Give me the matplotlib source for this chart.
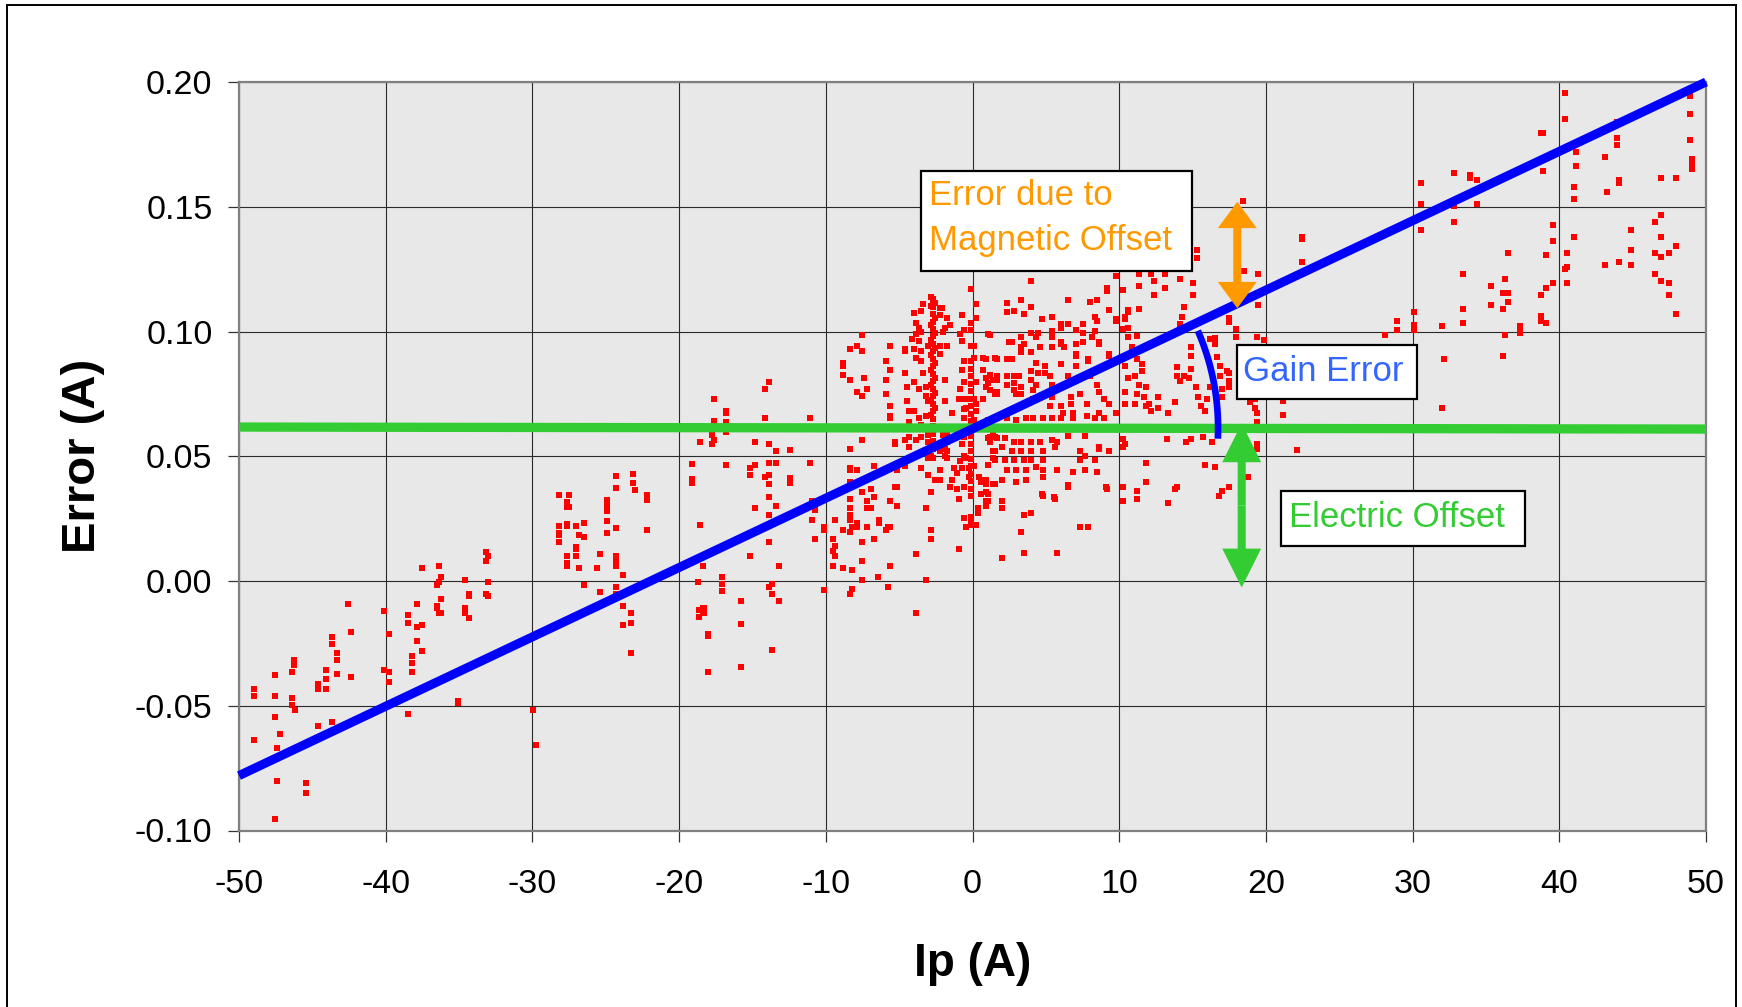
import numpy as np
import matplotlib
matplotlib.use('Agg')
import matplotlib.pyplot as plt
from matplotlib.patches import Rectangle, FancyArrowPatch, ArrowStyle
from matplotlib.ticker import FormatStrFormatter

plt.rcParams['font.family'] = ['Liberation Sans', 'DejaVu Sans']
plt.rcParams['axes.unicode_minus'] = False

pts_far_left = [
    (-48.98, -0.0432), (-48.98, -0.0459), (-48.98, -0.0639),
    (-47.52, -0.0376), (-47.52, -0.0460), (-47.52, -0.0545), (-47.23, -0.0612),
    (-47.39, -0.0669), (-47.39, -0.0800), (-47.52, -0.0952),
    (-46.40, -0.0365), (-46.25, -0.0318), (-46.25, -0.0336), (-46.40, -0.0469),
    (-46.40, -0.0497), (-46.20, -0.0516), (-45.43, -0.0810), (-45.43, -0.0848),
    (-44.64, -0.0412), (-44.64, -0.0432), (-44.64, -0.0583), (-44.10, -0.0356),
    (-44.10, -0.0393), (-44.10, -0.0432), (-43.66, -0.0223), (-43.66, -0.0251),
    (-43.34, -0.0289), (-43.34, -0.0318), (-43.34, -0.0374), (-43.66, -0.0564),
    (-42.55, -0.0091), (-42.36, -0.0205), (-42.36, -0.0384),
    (-40.10, -0.0119), (-39.77, -0.0214), (-40.10, -0.0356), (-39.77, -0.0365),
    (-39.77, -0.0404), (-38.50, -0.0138), (-38.50, -0.0167), (-38.50, -0.0535),
    (-37.84, -0.0091), (-37.84, -0.0186), (-37.84, -0.0242), (-37.50, 0.0052),
    (-37.50, -0.0175), (-37.50, -0.0279), (-38.20, -0.0300), (-38.20, -0.0328),
    (-38.20, -0.0365), (-36.36, 0.0062), (-36.20, 0.0015), (-36.36, -0.0004),
    (-36.50, -0.0015), (-36.20, -0.0072), (-36.50, -0.0100), (-36.50, -0.0110),
    (-36.36, -0.0128), (-36.20, -0.0128), (-34.60, 0.0004), (-34.30, -0.0052),
    (-34.30, -0.0061), (-34.60, -0.0110), (-34.60, -0.0128), (-34.30, -0.0147),
    (-35.10, -0.0479), (-35.10, -0.0488), (-33.16, 0.0118), (-33.00, 0.0099),
    (-33.16, 0.0080), (-33.00, -0.0005), (-33.16, -0.0052), (-33.00, -0.0061),
    (-29.93, -0.0517), (-29.77, -0.0659),
    (-28.16, 0.0345), (-27.50, 0.0345), (-27.66, 0.0316), (-27.50, 0.0297),
    (-27.66, 0.0297), (-28.16, 0.0222), (-28.16, 0.0194), (-28.16, 0.0185),
    (-28.16, 0.0156), (-27.66, 0.0230), (-27.66, 0.0222), (-27.00, 0.0222),
    (-26.50, 0.0231), (-26.84, 0.0185), (-26.50, 0.0175), (-27.00, 0.0138),
    (-27.00, 0.0127), (-27.66, 0.0099), (-27.66, 0.0071), (-27.66, 0.0062),
    (-27.00, 0.0099), (-26.84, 0.0052), (-26.50, -0.0015), (-25.57, 0.0052),
    (-25.40, 0.0108), (-25.40, -0.0043),
    (-24.90, 0.0326), (-24.90, 0.0307), (-24.90, 0.0289), (-24.90, 0.0279),
    (-24.90, 0.0241), (-24.90, 0.0194), (-24.27, 0.0420), (-24.27, 0.0373),
    (-24.27, 0.0213), (-24.27, 0.0099), (-24.27, 0.0080), (-24.27, 0.0062),
    (-23.80, 0.0023), (-24.27, -0.0024), (-24.27, -0.0052), (-23.80, -0.0100),
    (-23.80, -0.0175), (-23.30, -0.0128), (-23.30, -0.0167), (-23.30, -0.0289),
    (-23.15, 0.0429), (-23.15, 0.0392), (-23.00, 0.0364), (-22.20, 0.0345),
    (-22.20, 0.0326), (-22.20, 0.0203),
    (-19.10, 0.0468), (-19.10, 0.0410), (-19.10, 0.0392),
]

pts_mid_left = [
    (-18.66, -0.0118), (-18.30, -0.0109), (-18.30, -0.0128), (-18.66, -0.0146),
    (-18.00, -0.0211), (-18.00, -0.0221), (-18.00, -0.0363), (-15.76, -0.0174),
    (-15.76, -0.0343), (-13.65, -0.0278),
    (-17.60, 0.0730), (-17.60, 0.0643), (-17.76, 0.0586), (-17.76, 0.0548),
    (-17.60, 0.0567), (-18.56, 0.0558), (-16.77, 0.0683), (-16.77, 0.0674),
    (-16.77, 0.0636), (-16.77, 0.0596), (-16.77, 0.0463), (-18.56, 0.0224),
    (-18.38, 0.0062), (-18.70, -0.0004), (-17.08, 0.0015), (-17.08, -0.0014),
    (-17.08, -0.0042), (-18.38, -0.0110), (-18.38, -0.0130), (-15.80, -0.0081),
    (-15.15, 0.0100), (-14.83, 0.0291), (-15.15, 0.0453), (-15.15, 0.0425),
    (-14.83, 0.0463), (-14.83, 0.0558), (-14.17, 0.0768), (-13.85, 0.0796),
    (-14.17, 0.0654), (-13.85, 0.0548), (-13.85, 0.0472), (-13.37, 0.0520),
    (-13.37, 0.0472), (-13.85, 0.0425), (-14.17, 0.0415), (-13.85, 0.0387),
    (-13.85, 0.0338), (-13.85, 0.0263), (-13.37, 0.0300), (-13.85, 0.0157),
    (-13.20, 0.0062), (-13.85, -0.0023), (-13.69, -0.0014), (-13.69, -0.0053),
    (-13.20, -0.0081), (-12.41, 0.0526), (-12.41, 0.0412), (-12.41, 0.0393),
    (-11.10, 0.0654), (-11.10, 0.0472), (-10.93, 0.0319), (-10.77, 0.0283),
    (-10.93, 0.0244), (-10.77, 0.0167), (-10.14, 0.0215), (-10.14, 0.0205),
    (-10.14, -0.0035),
]

pts_core_left = [
    (-8.84, 0.0872), (-8.84, 0.0862), (-8.84, 0.0825), (-8.34, 0.0930),
    (-7.86, 0.0940), (-7.54, 0.0920), (-7.54, 0.0987), (-8.34, 0.0806),
    (-7.38, 0.0815), (-7.86, 0.0759), (-7.54, 0.0740), (-7.22, 0.0768),
    (-7.54, 0.0567), (-8.34, 0.0530), (-8.34, 0.0453), (-8.34, 0.0444),
    (-7.86, 0.0444), (-8.34, 0.0396), (-8.34, 0.0329), (-8.34, 0.0291),
    (-8.34, 0.0263), (-8.34, 0.0244), (-7.86, 0.0234), (-8.18, 0.0215),
    (-8.34, 0.0197), (-7.86, 0.0215), (-7.54, 0.0358), (-7.22, 0.0319),
    (-7.22, 0.0291), (-6.90, 0.0291), (-6.90, 0.0368), (-6.74, 0.0338),
    (-6.74, 0.0462), (-6.40, 0.0244), (-6.40, 0.0234), (-7.22, 0.0215),
    (-7.54, 0.0157), (-6.72, 0.0167), (-7.54, 0.0081), (-7.54, 0.0005),
    (-8.18, 0.0043), (-8.18, -0.0034), (-8.34, -0.0053), (-8.84, 0.0053),
    (-9.34, 0.0100), (-9.50, 0.0167), (-9.34, 0.0139), (-9.50, 0.0119),
    (-9.50, 0.0062), (-9.34, 0.0244), (-8.84, 0.0206), (-6.42, 0.0015),
    (-5.76, -0.0023), (-5.92, 0.0206), (-5.76, 0.0215), (-5.60, 0.0215),
    (-5.60, 0.0062), (-5.13, 0.0300), (-5.29, 0.0377), (-5.13, 0.0377),
    (-5.60, 0.0319), (-5.13, 0.0444), (-5.92, 0.0749), (-5.92, 0.0806),
    (-5.92, 0.0883), (-5.60, 0.0940), (-5.60, 0.0844), (-5.60, 0.0700),
    (-5.60, 0.0663), (-5.60, 0.0654), (-5.29, 0.0558), (-5.29, 0.0548),
    (-4.63, 0.0930), (-4.63, 0.0920), (-4.63, 0.0834), (-4.47, 0.0778),
    (-4.47, 0.0721), (-4.31, 0.0682), (-4.31, 0.0636), (-4.63, 0.0567),
    (-4.31, 0.0577), (-4.31, 0.0539), (-4.63, 0.0462), (-3.83, 0.0109),
    (-3.83, -0.0130), (-3.17, 0.0005), (-3.17, 0.0291), (-2.85, 0.0205),
    (-2.85, 0.0167), (-2.85, 0.0358), (-3.01, 0.0424), (-3.49, 0.0453),
    (-2.53, 0.0406), (-2.21, 0.0444), (-2.21, 0.0406), (-1.71, 0.0492),
    (-1.41, 0.0406), (-1.07, 0.0368), (-1.07, 0.0434), (-0.90, 0.0329),
    (-0.56, 0.0253), (-0.90, 0.0128), (-0.41, 0.0215), (-0.09, 0.0225),
    (0.23, 0.0225), (-0.09, 0.0244), (0.39, 0.0272), (0.39, 0.0291),
    (-2.85, 0.1140), (-2.69, 0.1112), (-2.85, 0.1102), (-3.35, 0.1112),
    (-3.51, 0.1084), (-3.99, 0.1074), (-2.21, 0.1093), (-2.05, 0.1093),
    (-2.21, 0.1065), (-1.71, 0.1055), (-1.55, 0.1027), (-1.87, 0.1016),
    (-2.03, 0.0997), (-3.83, 0.1036), (-3.67, 0.1016), (-3.83, 0.0988),
    (-3.51, 0.0997), (-4.15, 0.0969), (-3.67, 0.0960), (-3.99, 0.0930),
    (-3.51, 0.0920), (-3.83, 0.0892), (-3.51, 0.0883), (-3.01, 0.0940),
    (-3.35, 0.0834), (-3.99, 0.0796), (-3.67, 0.0768), (-3.17, 0.0778),
    (-3.17, 0.0740), (-3.01, 0.0721), (-1.87, 0.0806), (-1.87, 0.0721),
    (-1.41, 0.0672), (-2.21, 0.0940), (-1.71, 0.0940), (-2.21, 0.0911),
    (-4.15, 0.0682), (-3.99, 0.0682), (-3.67, 0.0655), (-3.51, 0.0625),
    (-3.83, 0.0567), (-3.51, 0.0577), (-3.17, 0.0663), (-3.01, 0.0586),
    (-3.01, 0.0558), (-2.85, 0.0501), (-2.69, 0.0492), (-3.01, 0.0492),
    (-2.21, 0.0520), (-1.71, 0.0520), (-1.71, 0.0558),
    (-1.87, 0.0530), (-1.87, 0.0501), (-2.03, 0.0586), (-1.71, 0.0586),
    (-1.55, 0.0377), (-1.23, 0.0453), (-0.58, 0.0377), (-0.25, 0.0415),
]

# dense vertical streaks of readings near Ip = -2.7 A and Ip = 0 A
pts_streaks = [
    (-2.70, 0.1130), (-2.70, 0.1100), (-2.70, 0.1070), (-2.70, 0.1040),
    (-2.70, 0.1010), (-2.70, 0.0980), (-2.70, 0.0950), (-2.70, 0.0920),
    (-2.70, 0.0890), (-2.70, 0.0860), (-2.70, 0.0830), (-2.70, 0.0800),
    (-2.70, 0.0770), (-2.70, 0.0740), (-2.70, 0.0710), (-2.70, 0.0680),
    (-2.70, 0.0650), (-2.55, 0.1115), (-2.55, 0.1055), (-2.55, 0.0995),
    (-2.55, 0.0935), (-2.55, 0.0875), (-2.55, 0.0815), (-2.55, 0.0755),
    (-2.55, 0.0695), (-2.85, 0.1025), (-2.85, 0.0965), (-2.85, 0.0905),
    (-2.85, 0.0845), (-2.85, 0.0785), (-2.85, 0.0725), (-2.85, 0.0665),
    (-2.70, 0.0620), (-2.70, 0.0590), (-2.70, 0.0560), (-2.70, 0.0530),
    (-0.09, 0.0850), (-0.09, 0.0820), (-0.09, 0.0790), (-0.09, 0.0760),
    (-0.09, 0.0730), (-0.09, 0.0700), (-0.09, 0.0670), (-0.09, 0.0640),
    (-0.09, 0.0610), (-0.09, 0.0580), (-0.09, 0.0550), (-0.09, 0.0520),
    (-0.09, 0.0490), (-0.09, 0.0460), (-0.09, 0.0430), (-0.09, 0.0400),
    (-0.09, 0.0370), (-0.09, 0.0340), (-0.09, 0.0255), (-0.09, 0.0235),
]

pts_core_mid = [
    (-0.09, 0.1169), (0.23, 0.1112), (0.23, 0.1055), (-0.09, 0.1036),
    (-0.09, 0.1007), (-0.73, 0.1065), (-0.56, 0.1007), (-0.88, 0.0988),
    (-0.73, 0.0960), (-0.09, 0.0940), (0.07, 0.0940), (0.07, 0.0892),
    (-0.09, 0.0881), (1.05, 0.0988), (-0.56, 0.0883), (-0.73, 0.0844),
    (-0.56, 0.0796), (0.23, 0.0796), (0.73, 0.0892), (1.53, 0.0892),
    (0.73, 0.0844), (0.89, 0.0815), (1.21, 0.0825), (1.37, 0.0806),
    (0.89, 0.0778), (1.53, 0.0759), (1.53, 0.0749), (-0.88, 0.0768),
    (-0.88, 0.0730), (-0.56, 0.0730), (-0.25, 0.0730), (0.07, 0.0730),
    (0.23, 0.0711), (0.71, 0.0730), (-0.41, 0.0693), (0.23, 0.0683),
    (-0.56, 0.0655), (0.07, 0.0644), (0.89, 0.0616), (1.37, 0.0596),
    (1.21, 0.0577), (1.53, 0.0577), (1.21, 0.0558), (-0.56, 0.0577),
    (-0.73, 0.0548), (-0.56, 0.0501), (-0.88, 0.0482), (-0.41, 0.0492),
    (0.07, 0.0462), (-0.25, 0.0454), (-0.73, 0.0454), (0.41, 0.0415),
    (0.57, 0.0396), (0.89, 0.0387), (0.89, 0.0358), (0.89, 0.0319),
    (0.89, 0.0300), (1.37, 0.0387), (1.37, 0.0492), (1.37, 0.0520),
    (1.05, 0.0463), (0.57, 0.0349), (0.39, 0.0291), (-0.90, 0.0730),
    (-0.58, 0.0690),
]

pts_core_right = [
    (3.96, 0.1202), (3.33, 0.1127), (2.35, 0.1114), (2.35, 0.1078),
    (2.83, 0.1083), (3.48, 0.1070), (3.96, 0.1098), (4.75, 0.1051),
    (5.41, 0.1060), (6.06, 0.1032), (6.06, 0.1013), (6.54, 0.1127),
    (6.54, 0.1032), (7.04, 0.1005), (7.51, 0.1032), (7.51, 0.0995),
    (8.00, 0.1118), (8.48, 0.1127), (8.33, 0.1060), (8.48, 0.1042),
    (8.33, 0.1004), (9.15, 0.1173), (9.15, 0.1163), (9.30, 0.1088),
    (9.77, 0.1222), (9.77, 0.1051), (9.77, 0.1042), (1.22, 0.0985),
    (3.33, 0.0976), (3.96, 0.0995), (4.46, 0.0995), (4.30, 0.0976),
    (5.41, 0.1004), (5.41, 0.0976), (6.06, 0.0957), (7.04, 0.0948),
    (7.51, 0.0957), (8.64, 0.0957), (8.17, 0.0976), (8.64, 0.0948),
    (3.48, 0.0948), (2.51, 0.0957), (2.67, 0.0957), (3.33, 0.0937),
    (3.33, 0.0917), (3.96, 0.0917), (4.62, 0.0937), (5.41, 0.0937),
    (6.06, 0.0948), (6.22, 0.0937), (7.04, 0.0909), (7.04, 0.0900),
    (7.85, 0.0890), (7.85, 0.0881), (9.30, 0.0909), (9.30, 0.0900),
    (0.91, 0.0890), (1.70, 0.0890), (2.35, 0.0890), (2.67, 0.0890),
    (1.22, 0.0823), (0.91, 0.0814), (1.06, 0.0795), (1.22, 0.0767),
    (1.70, 0.0823), (1.70, 0.0804), (1.70, 0.0757), (1.70, 0.0748),
    (2.35, 0.0823), (2.35, 0.0786), (2.83, 0.0823), (2.83, 0.0795),
    (2.83, 0.0767), (2.99, 0.0748), (3.14, 0.0823), (3.33, 0.0776),
    (3.33, 0.0748), (3.96, 0.0842), (3.96, 0.0804), (4.14, 0.0767),
    (4.14, 0.0729), (4.30, 0.0873), (4.30, 0.0786), (4.46, 0.0832),
    (4.93, 0.0861), (4.93, 0.0832), (5.25, 0.0823), (5.41, 0.0786),
    (5.41, 0.0739), (5.25, 0.0701), (6.00, 0.0870), (6.06, 0.0701),
    (6.54, 0.0823), (6.70, 0.0739), (6.70, 0.0711), (6.88, 0.0673),
    (6.88, 0.0654), (7.04, 0.0861), (7.35, 0.0748), (7.83, 0.0711),
    (7.83, 0.0660), (8.00, 0.0823), (8.48, 0.0786), (8.64, 0.0757),
    (8.96, 0.0729), (9.30, 0.0711), (8.64, 0.0673), (8.33, 0.0654),
    (8.98, 0.0654), (9.77, 0.0673), (6.20, 0.0673), (6.00, 0.0654),
    (5.41, 0.0654), (4.78, 0.0654), (4.14, 0.0654), (3.64, 0.0654),
    (2.99, 0.0645), (2.35, 0.0654), (1.70, 0.0654), (1.06, 0.0645),
    (1.06, 0.0575), (1.70, 0.0575), (2.20, 0.0575), (2.83, 0.0558),
    (3.33, 0.0558), (3.96, 0.0558), (4.62, 0.0558), (5.41, 0.0567),
    (5.75, 0.0558), (6.54, 0.0582), (7.67, 0.0582), (8.64, 0.0530),
    (9.30, 0.0520), (8.64, 0.0539), (1.54, 0.0520), (2.04, 0.0539),
    (2.67, 0.0520), (3.33, 0.0520), (3.96, 0.0520), (4.78, 0.0520),
    (5.59, 0.0539), (1.54, 0.0483), (2.20, 0.0483), (2.83, 0.0483),
    (3.48, 0.0483), (3.96, 0.0483), (4.78, 0.0483), (7.35, 0.0520),
    (7.35, 0.0483), (7.67, 0.0502), (8.33, 0.0483), (1.06, 0.0464),
    (2.35, 0.0444), (2.99, 0.0444), (3.64, 0.0444), (4.30, 0.0455),
    (4.78, 0.0444), (5.75, 0.0444), (6.88, 0.0436), (7.67, 0.0444),
    (8.48, 0.0436), (0.61, 0.0406), (0.91, 0.0406), (1.54, 0.0388),
    (2.04, 0.0406), (2.99, 0.0397), (3.64, 0.0406), (4.78, 0.0416),
    (6.54, 0.0378), (9.15, 0.0369), (1.06, 0.0349), (2.04, 0.0321),
    (2.04, 0.0293), (1.06, 0.0321), (4.78, 0.0339), (5.59, 0.0330),
    (3.48, 0.0264), (3.96, 0.0274), (3.33, 0.0197), (7.35, 0.0216),
    (7.85, 0.0216), (2.04, 0.0093), (3.48, 0.0113), (5.75, 0.0113),
    (6.52, 0.0384), (9.11, 0.0375), (4.75, 0.0347), (5.55, 0.0338),
]

pts_knee = [
    (10.25, 0.1165), (10.57, 0.1087), (10.57, 0.1078), (11.38, 0.1232),
    (11.38, 0.1182), (11.38, 0.1090), (12.35, 0.1202), (12.35, 0.1146),
    (12.20, 0.1232), (13.14, 0.1232), (13.14, 0.1174), (14.12, 0.1212),
    (15.05, 0.1193), (15.05, 0.1146), (14.41, 0.1098), (14.27, 0.1060),
    (14.12, 0.1032), (10.41, 0.1060), (10.41, 0.1051), (10.25, 0.1011),
    (10.59, 0.0976), (10.59, 0.1013), (11.22, 0.0981), (10.90, 0.0937),
    (10.75, 0.0910), (11.22, 0.0890), (11.54, 0.0870), (11.54, 0.0842),
    (10.41, 0.0861), (10.59, 0.0814), (11.06, 0.0823), (11.38, 0.0786),
    (11.86, 0.0776), (11.22, 0.0748), (11.70, 0.0739), (10.41, 0.0757),
    (10.41, 0.0711), (11.06, 0.0711), (11.86, 0.0701), (12.04, 0.0711),
    (12.20, 0.0682), (12.67, 0.0739), (12.67, 0.0692), (13.30, 0.0673),
    (13.82, 0.0716), (13.96, 0.0859), (13.96, 0.0823), (14.12, 0.0803),
    (14.43, 0.0823), (14.91, 0.0937), (14.91, 0.0900), (14.91, 0.0851),
    (14.75, 0.0812), (15.23, 0.0776), (15.38, 0.0739), (15.57, 0.0700),
    (15.86, 0.0682), (16.00, 0.0729), (16.20, 0.0776), (16.20, 0.0970),
    (16.51, 0.0973), (16.51, 0.0950), (16.67, 0.0897), (16.86, 0.0861),
    (16.86, 0.0823), (17.35, 0.0842), (17.49, 0.0832), (17.49, 0.0803),
    (17.00, 0.0770), (17.49, 0.0776), (16.99, 0.0736), (17.49, 0.1040),
    (17.49, 0.1054), (17.96, 0.1011), (17.96, 0.0979), (18.48, 0.1241),
    (19.43, 0.1232), (19.43, 0.1107), (19.41, 0.0976), (19.89, 0.0967),
    (18.90, 0.0823), (18.90, 0.0786), (19.28, 0.0748), (19.28, 0.0692),
    (19.39, 0.0673), (19.39, 0.0636), (18.90, 0.0716), (19.28, 0.0729),
    (10.25, 0.0569), (10.41, 0.0549), (10.25, 0.0539), (11.86, 0.0472),
    (11.86, 0.0397), (11.22, 0.0360), (11.22, 0.0330), (10.25, 0.0378),
    (10.25, 0.0321), (13.30, 0.0311), (13.82, 0.0369), (13.96, 0.0378),
    (13.28, 0.0569), (14.57, 0.0558), (14.91, 0.0569), (15.72, 0.0578),
    (16.35, 0.0558), (15.86, 0.0464), (16.51, 0.0455), (16.83, 0.0339),
    (16.99, 0.0360), (17.46, 0.0378), (18.76, 0.0416), (19.37, 0.0550),
    (19.37, 0.0530), (15.28, 0.1326), (15.30, 0.1294), (18.46, 0.1523),
]

pts_far_right = [
    (22.47, 0.1379), (22.47, 0.1370), (22.47, 0.1277), (21.18, 0.0722),
    (21.18, 0.0666), (22.13, 0.0525), (28.12, 0.0986), (28.93, 0.1042),
    (28.93, 0.1005), (30.07, 0.1079), (30.07, 0.1025), (30.07, 0.1005),
    (30.54, 0.1408), (30.54, 0.1512), (30.54, 0.1597), (32.00, 0.1023),
    (32.15, 0.0890), (32.00, 0.0694), (32.79, 0.1634), (33.92, 0.1626),
    (33.92, 0.1617), (34.42, 0.1606), (34.42, 0.1512), (32.79, 0.1504),
    (32.79, 0.1438), (33.45, 0.1230), (33.45, 0.1090), (33.45, 0.1033),
    (35.37, 0.1184), (35.37, 0.1108), (36.16, 0.1090), (36.32, 0.1211),
    (36.19, 0.1155), (36.50, 0.1155), (36.50, 0.1118), (36.50, 0.1315),
    (36.32, 0.0986), (36.16, 0.0901), (37.30, 0.1023), (37.30, 0.1005),
    (37.30, 0.0995), (38.75, 0.1145), (38.75, 0.1062), (38.75, 0.1042),
    (39.07, 0.1033), (39.07, 0.1173), (39.57, 0.1193), (39.07, 0.1305),
    (39.57, 0.1362), (39.57, 0.1428), (38.75, 0.1795), (38.90, 0.1795),
    (38.90, 0.1645), (40.36, 0.1954), (40.36, 0.1851), (41.16, 0.1719),
    (41.16, 0.1662), (41.00, 0.1578), (41.00, 0.1532), (41.00, 0.1380),
    (40.52, 0.1315), (40.52, 0.1258), (40.36, 0.1249), (40.52, 0.1193),
    (43.90, 0.1841), (43.90, 0.1775), (43.90, 0.1747), (43.10, 0.1700),
    (43.26, 0.1560), (44.06, 0.1606), (44.06, 0.1597), (43.10, 0.1268),
    (44.06, 0.1277), (44.87, 0.1408), (44.87, 0.1325), (44.87, 0.1268),
    (46.49, 0.1438), (46.96, 0.1465), (46.96, 0.1380), (46.49, 0.1315),
    (46.96, 0.1297), (47.46, 0.1315), (47.94, 0.1343), (46.49, 0.1230),
    (46.96, 0.1203), (47.46, 0.1193), (47.46, 0.1145), (47.94, 0.1071),
    (46.96, 0.1616), (47.94, 0.1616), (48.89, 0.1945), (48.89, 0.1870),
    (48.89, 0.1766), (49.07, 0.1691), (49.07, 0.1671), (49.07, 0.1653),
]

# straight-line fit (gain + offset) and the electric offset level
fit_ip = [-50, 50]
fit_err = [-0.078, 0.200]
offset_ip = [-50, 50]
offset_err = [0.0617, 0.0609]

x_ticks = [-50, -40, -30, -20, -10, 0, 10, 20, 30, 40, 50]
y_ticks = [-0.10, -0.05, 0.00, 0.05, 0.10, 0.15, 0.20]

# annotation arrows: (Ip, lower end, upper end)
mag_arrow = (18.05, 0.1093, 0.1520)
elec_arrow = (18.35, -0.0026, 0.0632)

W, H = 1742, 1007
fig = plt.figure(figsize=(W / 100, H / 100), dpi=100)
ax = fig.add_axes([239 / W, 1 - 830.5 / H, 1467 / W, 748.5 / H])
ax.set_facecolor('#e8e8e8')
ax.set_xlim(-50, 50)
ax.set_ylim(-0.10, 0.20)
ax.set_xticks(x_ticks)
ax.set_yticks(y_ticks)
ax.yaxis.set_major_formatter(FormatStrFormatter('%.2f'))
ax.grid(True, color='#2a2a2a', lw=0.8)
ax.set_axisbelow(True)
for s in ax.spines.values():
    s.set_color('#808080')
    s.set_linewidth(1.6)
ax.tick_params(axis='both', direction='out', length=8, width=0.9,
               color='#333333', labelsize=24.5)
ax.tick_params(axis='x', pad=20)
ax.tick_params(axis='y', pad=11)

all_pts = np.array(pts_far_left + pts_mid_left + pts_core_left + pts_streaks
                   + pts_core_mid + pts_core_right + pts_knee + pts_far_right)
ax.plot(all_pts[:, 0], all_pts[:, 1], 's', color='#ff0000', ms=3.7, mew=0,
        zorder=2)

ax.plot(offset_ip, offset_err, color='#33cc33', lw=6.7, solid_capstyle='butt',
        zorder=3)
ax.plot(fit_ip, fit_err, color='#0000ff', lw=6.5, solid_capstyle='butt',
        zorder=4, clip_on=False)

# gain error arc, drawn around the crossing of the two lines (in pixel space)
px_x = 1467 / 100.0
px_y = 748.5 / 0.30
slope = (fit_err[1] - fit_err[0]) / (fit_ip[1] - fit_ip[0])
lvl = np.mean(offset_err)
cx = fit_ip[0] + (lvl - fit_err[0]) / slope
t = np.radians(np.linspace(23.5, -2.5, 60))
r = 244
ax.plot(cx + r * np.cos(t) / px_x, lvl + r * np.sin(t) / px_y, color='#0000ff',
        lw=4.8, solid_capstyle='butt', zorder=4)


def double_arrow(spec, color, head_len, head_w):
    x, lo, hi = spec
    mid = (lo + hi) / 2
    style = ArrowStyle.Simple(head_length=head_len, head_width=head_w,
                              tail_width=5.8)
    for end in (lo, hi):
        ax.add_patch(FancyArrowPatch((x, mid), (x, end), arrowstyle=style,
                                     mutation_scale=1, color=color, lw=0,
                                     shrinkA=0, shrinkB=0, zorder=5,
                                     clip_on=False))


double_arrow(mag_arrow, '#ff9900', 19, 28)
double_arrow(elec_arrow, '#33cc33', 28, 28)


def box(x0, y0, x1, y1):
    fig.add_artist(Rectangle((x0 / W, 1 - y1 / H), (x1 - x0) / W, (y1 - y0) / H,
                             transform=fig.transFigure, facecolor='white',
                             edgecolor='black', lw=1.6, zorder=5))


def label(x, y, s, color):
    fig.text(x / W, 1 - y / H, s, color=color, fontsize=25, ha='left',
             va='baseline', zorder=6)


box(921, 171, 1192, 271)
label(929, 205, 'Error due to', '#ff9900')
label(929, 250, 'Magnetic Offset', '#ff9900')
box(1237, 345, 1417, 399)
label(1243, 381, 'Gain Error', '#3366ff')
box(1281, 491, 1525, 546)
label(1289, 527, 'Electric Offset', '#33cc33')

ax.set_xlabel('Ip (A)', fontsize=33, fontweight='bold', va='center')
ax.xaxis.set_label_coords(0.5, (830.5 - 964) / 748.5)
ax.set_ylabel('Error (A)', fontsize=34, fontweight='bold', va='center')
ax.yaxis.set_label_coords((83 - 239) / 1467, 0.5)

# outer frame of the figure
fig.add_artist(Rectangle((7 / W, -0.05), (1735.5 - 7) / W, 1.05 - 5 / H,
                         transform=fig.transFigure, fill=False,
                         edgecolor='black', lw=1.4, zorder=0))

fig.savefig('out.png', dpi=100)
